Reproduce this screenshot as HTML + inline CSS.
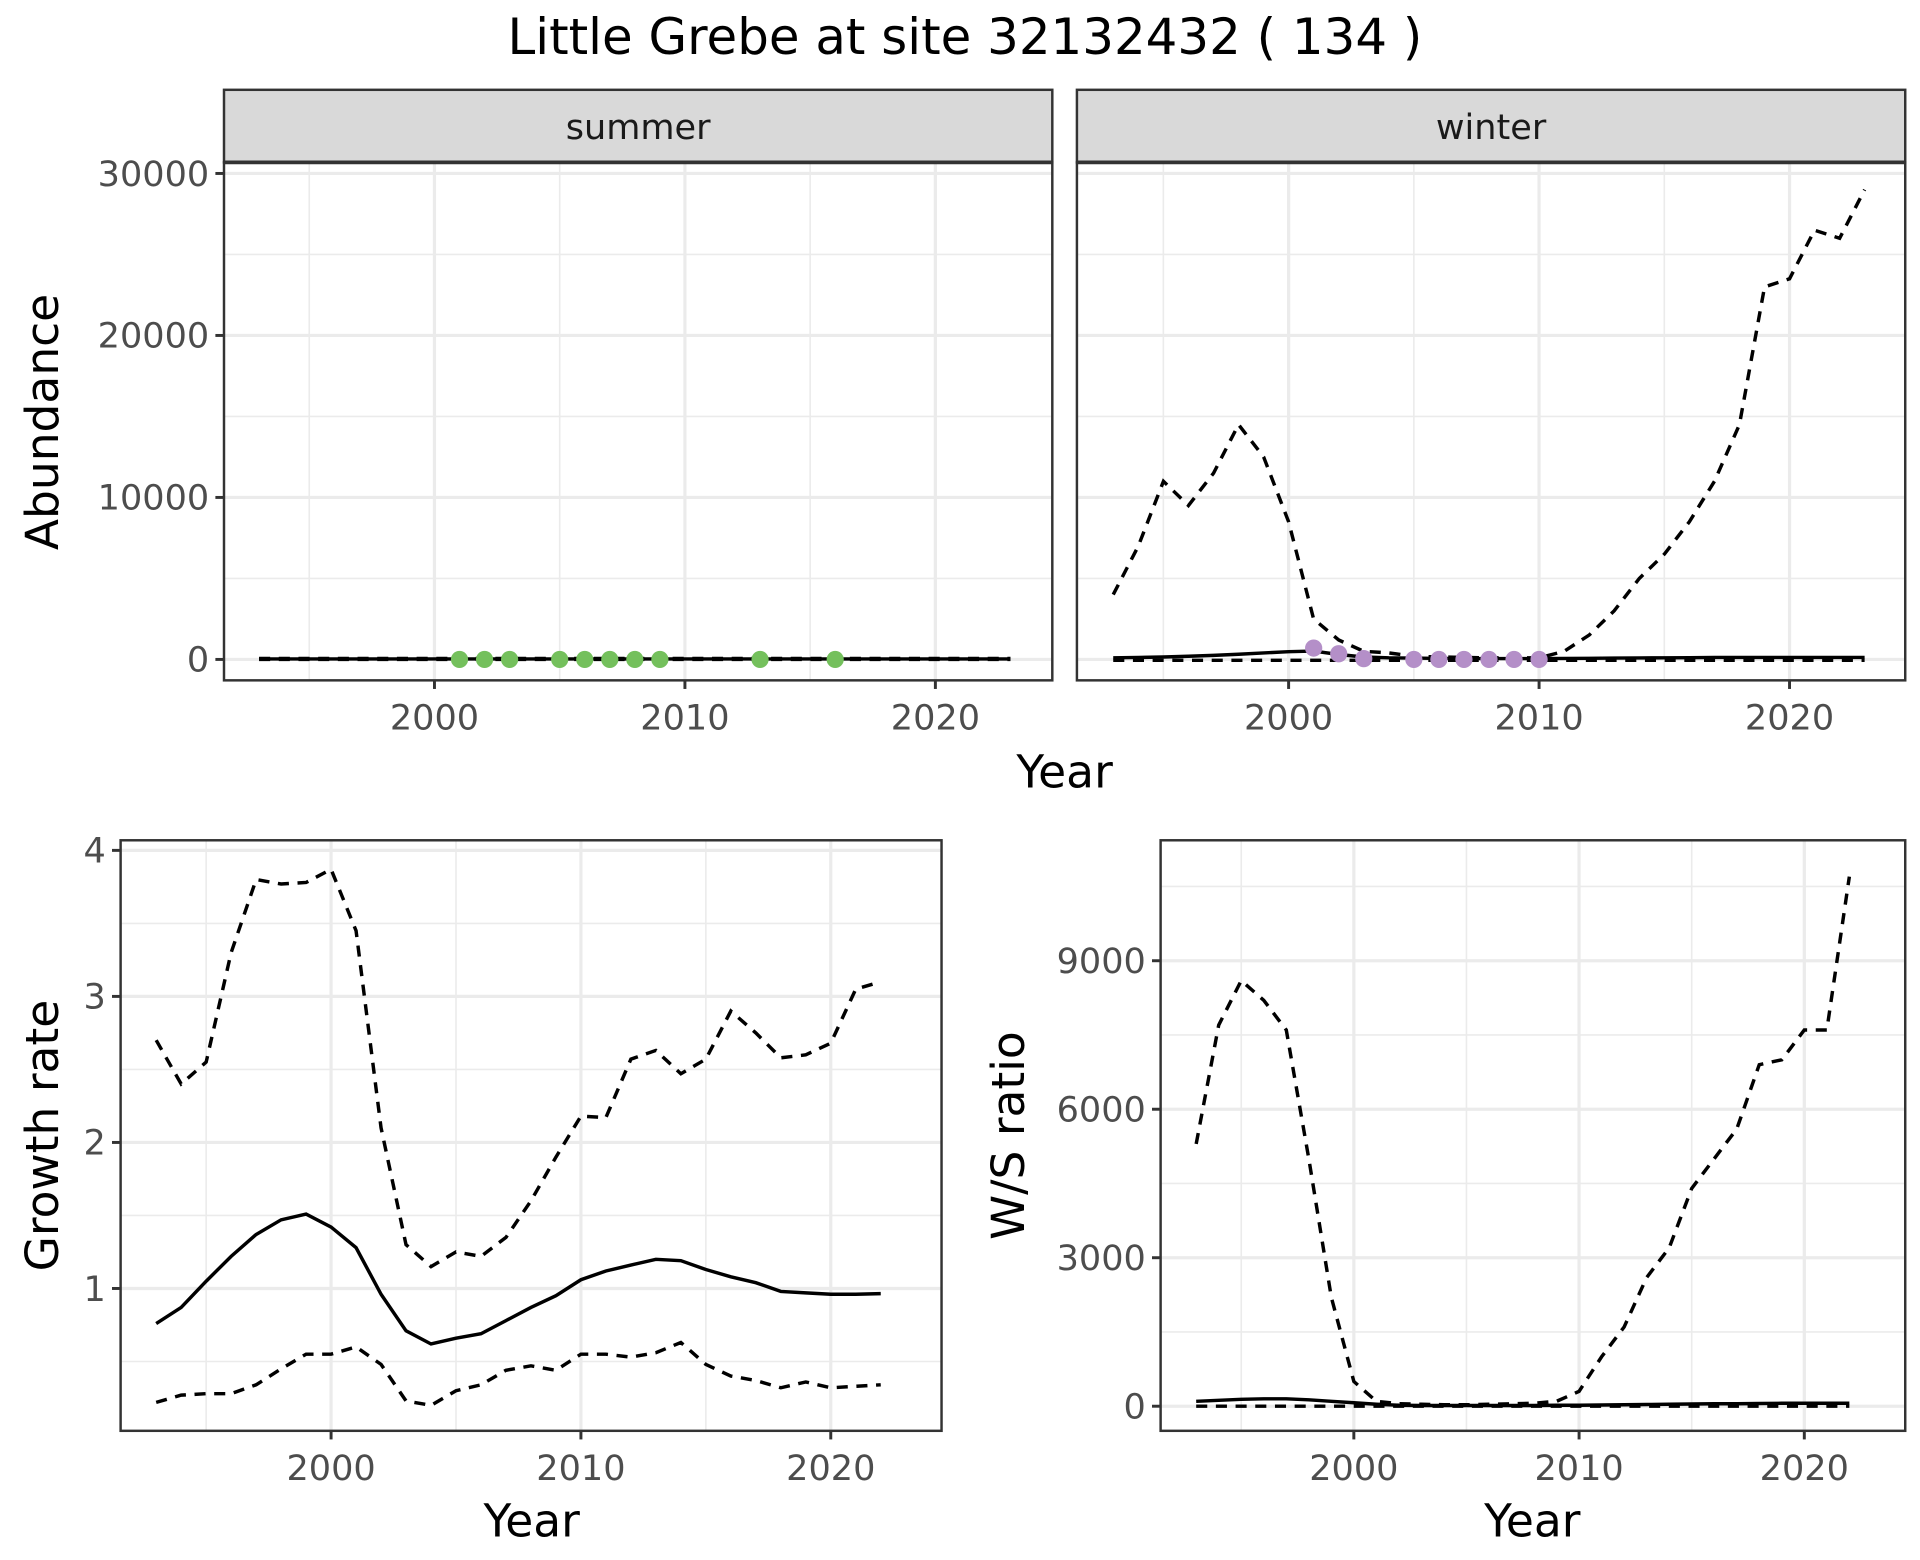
<!DOCTYPE html><html><head><meta charset="utf-8"><style>body{margin:0;background:#fff}svg{display:block}text{font-family:"DejaVu Sans","Liberation Sans",sans-serif}</style></head><body>
<svg id="s" width="1920" height="1560" viewBox="0 0 1560 1268" preserveAspectRatio="none" xmlns="http://www.w3.org/2000/svg"></svg>
<script>
const s=document.getElementById('s');let h='';
const yrs=[];for(let y=1993;y<=2023;y++)yrs.push(y);
function path(xs,ys,fx,fy,dash,w){let d=xs.map((x,i)=>(i?'L':'M')+fx(x).toFixed(1)+','+fy(ys[i]).toFixed(1)).join('');h+=`<path d="${d}" fill="none" stroke="#000" stroke-width="${w||2.8}" ${dash?'stroke-dasharray="9,7"':''}/>`;}
function panel(x0,x1,y0,y1,fx,fy,xt,yt,yl,minx,miny){
 h+=`<rect x="${x0}" y="${y0}" width="${x1-x0}" height="${y1-y0}" fill="#fff"/>`;
 minx.forEach(v=>h+=`<line x1="${fx(v)}" x2="${fx(v)}" y1="${y0}" y2="${y1}" stroke="#ebebeb" stroke-width="1.3"/>`);
 miny.forEach(v=>h+=`<line y1="${fy(v)}" y2="${fy(v)}" x1="${x0}" x2="${x1}" stroke="#ebebeb" stroke-width="1.3"/>`);
 xt.forEach(v=>{h+=`<line x1="${fx(v)}" x2="${fx(v)}" y1="${y0}" y2="${y1}" stroke="#ebebeb" stroke-width="2.6"/><line x1="${fx(v)}" x2="${fx(v)}" y1="${y1}" y2="${y1+7}" stroke="#333" stroke-width="2.4"/><text x="${fx(v)}" y="${y1+40}" font-size="28.5" fill="#4d4d4d" text-anchor="middle">${v}</text>`});
 yt.forEach((v,i)=>{h+=`<line y1="${fy(v)}" y2="${fy(v)}" x1="${x0}" x2="${x1}" stroke="#ebebeb" stroke-width="2.6"/>`;if(yl){h+=`<line y1="${fy(v)}" y2="${fy(v)}" x1="${x0-7}" x2="${x0}" stroke="#333" stroke-width="2.4"/><text x="${x0-12}" y="${fy(v)+10}" font-size="28.5" fill="#4d4d4d" text-anchor="end">${yl[i]}</text>`}});
}
function border(x0,x1,y0,y1){h+=`<rect x="${x0}" y="${y0}" width="${x1-x0}" height="${y1-y0}" fill="none" stroke="#333" stroke-width="2"/>`}
h+=`<text x="784" y="44" font-size="40.5" text-anchor="middle">Little Grebe at site 32132432 ( 134 )</text>`;
const ty=v=>536-v*0.013167;
[[182,855,353],[875,1548,1047]].forEach(([x0,x1,x2000],k)=>{
 const fx=y=>x2000+(y-2000)*20.35;
 panel(x0,x1,132,553,fx,ty,[2000,2010,2020],[0,10000,20000,30000],k?null:['0','10000','20000','30000'],[1995,2005,2015],[5000,15000,25000]);
 h+=`<rect x="${x0}" y="73" width="${x1-x0}" height="59" fill="#d9d9d9" stroke="#333" stroke-width="2"/><line x1="${x0}" x2="${x1}" y1="132" y2="132" stroke="#333" stroke-width="3"/><text x="${(x0+x1)/2}" y="113" font-size="28.5" fill="#1a1a1a" text-anchor="middle">${k?'winter':'summer'}</text>`;
 if(k==0){path(yrs,yrs.map(_=>30),fx,ty,0);path(yrs,yrs.map(_=>60),fx,ty,1);path(yrs,yrs.map(_=>0),fx,ty,1);
  [2001,2002,2003,2005,2006,2007,2008,2009,2013,2016].forEach(y=>h+=`<circle cx="${fx(y)}" cy="${ty(0)}" r="7" fill="#74c05c"/>`);}
 else{const up=[4000,7000,11000,9500,11500,14500,12500,8500,2500,1200,500,400,200,150,120,100,100,100,500,1500,3000,5000,6500,8500,11000,14500,23000,23500,26500,26000,29000];
  const so=[100,120,150,200,250,320,400,480,520,300,150,100,80,60,50,50,50,50,60,70,80,90,100,110,120,120,120,120,120,120,120];
  path(yrs,up,fx,ty,1);path(yrs,so,fx,ty,0);path(yrs,yrs.map(_=>-50),fx,ty,1);
  [[2001,700],[2002,350],[2003,50],[2005,0],[2006,0],[2007,0],[2008,0],[2009,0],[2010,0]].forEach(([y,v])=>h+=`<circle cx="${fx(y)}" cy="${ty(v)}" r="7" fill="#b48fc8"/>`);}
 border(x0,x1,132,553);
});
h+=`<text x="865" y="640" font-size="37" text-anchor="middle">Year</text><text transform="translate(47,343) rotate(-90)" font-size="37" text-anchor="middle">Abundance</text>`;
const gy=yrs.slice(0,30);
const gx=y=>269+(y-2000)*20.3, gyf=v=>1166-v*118.7;
panel(98,765,683,1163,gx,gyf,[2000,2010,2020],[1,2,3,4],['1','2','3','4'],[1995,2005,2015],[1.5,2.5,3.5,0.5]);
path(gy,[2.7,2.4,2.55,3.3,3.8,3.77,3.78,3.87,3.45,2.1,1.3,1.15,1.25,1.22,1.35,1.6,1.9,2.18,2.17,2.57,2.63,2.47,2.57,2.9,2.75,2.58,2.6,2.68,3.05,3.1],gx,gyf,1);
path(gy,[.76,.87,1.05,1.22,1.37,1.47,1.51,1.42,1.28,.96,.71,.62,.66,.69,.78,.87,.95,1.06,1.12,1.16,1.2,1.19,1.13,1.08,1.04,.98,.97,.96,.96,.965],gx,gyf,0);
path(gy,[.22,.27,.28,.28,.34,.45,.55,.55,.6,.48,.23,.2,.3,.34,.44,.47,.44,.55,.55,.53,.56,.63,.48,.4,.37,.32,.36,.32,.33,.34],gx,gyf,1);
border(98,765,683,1163);
h+=`<text x="432" y="1249" font-size="37" text-anchor="middle">Year</text><text transform="translate(47,923) rotate(-90)" font-size="37" text-anchor="middle">Growth rate</text>`;
const wx=y=>1100+(y-2000)*18.3, wy=v=>1143-v*0.040233;
panel(943,1548,683,1163,wx,wy,[2000,2010,2020],[0,3000,6000,9000],['0','3000','6000','9000'],[1995,2005,2015],[1500,4500,7500,10500]);
path(gy,[5300,7700,8600,8200,7600,5000,2200,500,100,50,40,30,30,40,50,60,100,300,1000,1600,2600,3200,4400,5000,5600,6900,7000,7600,7600,10700],wx,wy,1);
path(gy,[100,120,140,150,150,130,100,70,40,20,15,15,15,15,15,15,20,20,25,30,35,40,45,50,50,55,60,60,60,60],wx,wy,0);
path(gy,gy.map(_=>0),wx,wy,1);
border(943,1548,683,1163);
h+=`<text x="1245" y="1249" font-size="37" text-anchor="middle">Year</text><text transform="translate(832,923) rotate(-90)" font-size="37" text-anchor="middle">W/S ratio</text>`;
s.innerHTML=h;
</script></body></html>
